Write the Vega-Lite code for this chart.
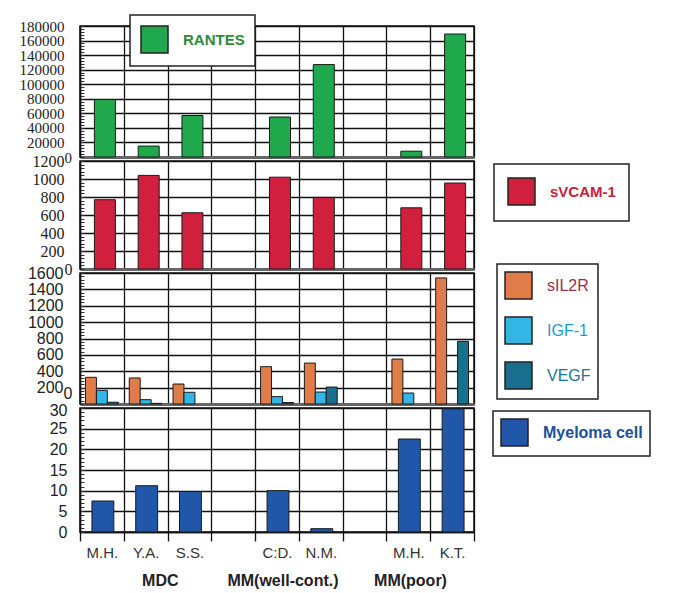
{
  "$schema": "https://vega.github.io/schema/vega-lite/v6.json",
  "background": "white",
  "padding": {"left": 18, "top": 13, "right": 0, "bottom": 0},
  "bounds": "flush",
  "spacing": 4,
  "config": {
    "view": {"stroke": "#111", "strokeWidth": 1.5},
    "legend": {"strokeWidth": 1.5}
  },
  "datasets": {
    "rantes": [
      {"slot": "M.H.|MDC", "series": "RANTES", "value": 79000},
      {"slot": "Y.A.|MDC", "series": "RANTES", "value": 15000},
      {"slot": "S.S.|MDC", "series": "RANTES", "value": 57000},
      {"slot": "C:D.|well", "series": "RANTES", "value": 55000},
      {"slot": "N.M.|well", "series": "RANTES", "value": 127000},
      {"slot": "M.H.|poor", "series": "RANTES", "value": 8000},
      {"slot": "K.T.|poor", "series": "RANTES", "value": 169000}
    ],
    "svcam": [
      {"slot": "M.H.|MDC", "series": "sVCAM-1", "value": 770},
      {"slot": "Y.A.|MDC", "series": "sVCAM-1", "value": 1040},
      {"slot": "S.S.|MDC", "series": "sVCAM-1", "value": 625},
      {"slot": "C:D.|well", "series": "sVCAM-1", "value": 1020},
      {"slot": "N.M.|well", "series": "sVCAM-1", "value": 795},
      {"slot": "M.H.|poor", "series": "sVCAM-1", "value": 680},
      {"slot": "K.T.|poor", "series": "sVCAM-1", "value": 955}
    ],
    "cyto": [
      {"slot": "M.H.|MDC", "series": "sIL2R", "value": 326},
      {"slot": "M.H.|MDC", "series": "IGF-1", "value": 167},
      {"slot": "M.H.|MDC", "series": "VEGF", "value": 22},
      {"slot": "Y.A.|MDC", "series": "sIL2R", "value": 318},
      {"slot": "Y.A.|MDC", "series": "IGF-1", "value": 53},
      {"slot": "Y.A.|MDC", "series": "VEGF", "value": 8},
      {"slot": "S.S.|MDC", "series": "sIL2R", "value": 244},
      {"slot": "S.S.|MDC", "series": "IGF-1", "value": 143},
      {"slot": "C:D.|well", "series": "sIL2R", "value": 456},
      {"slot": "C:D.|well", "series": "IGF-1", "value": 90},
      {"slot": "C:D.|well", "series": "VEGF", "value": 18},
      {"slot": "N.M.|well", "series": "sIL2R", "value": 500},
      {"slot": "N.M.|well", "series": "IGF-1", "value": 146},
      {"slot": "N.M.|well", "series": "VEGF", "value": 207},
      {"slot": "M.H.|poor", "series": "sIL2R", "value": 549},
      {"slot": "M.H.|poor", "series": "IGF-1", "value": 134},
      {"slot": "K.T.|poor", "series": "sIL2R", "value": 1540},
      {"slot": "K.T.|poor", "series": "VEGF", "value": 765}
    ],
    "myeloma": [
      {"slot": "M.H.|MDC", "series": "Myeloma cell", "value": 7.5},
      {"slot": "Y.A.|MDC", "series": "Myeloma cell", "value": 11.2},
      {"slot": "S.S.|MDC", "series": "Myeloma cell", "value": 9.8},
      {"slot": "C:D.|well", "series": "Myeloma cell", "value": 10},
      {"slot": "N.M.|well", "series": "Myeloma cell", "value": 0.8},
      {"slot": "M.H.|poor", "series": "Myeloma cell", "value": 22.5},
      {"slot": "K.T.|poor", "series": "Myeloma cell", "value": 29.8}
    ]
  },
  "resolve": {
    "scale": {"x": "independent", "y": "independent", "color": "independent", "xOffset": "independent"},
    "legend": {"color": "independent"}
  },
  "vconcat": [
    {
      "width": 394, "height": 131,
      "data": {"name": "rantes"},
      "mark": {"type": "bar", "width": {"band": 0.48}, "xOffset": 3, "stroke": "#1a1a1a", "strokeWidth": 1},
      "encoding": {
        "x": {"field": "slot", "type": "nominal", "sort": null,
          "scale": {"domain": ["M.H.|MDC","Y.A.|MDC","S.S.|MDC","|g1","C:D.|well","N.M.|well","|g2","M.H.|poor","K.T.|poor"], "paddingInner": 0, "paddingOuter": 0},
          "axis": {"title": null, "labels": false, "ticks": false, "domain": true, "domainColor": "#666", "domainWidth": 3, "grid": true, "gridColor": "#111", "gridWidth": 1.3, "tickBand": "extent"}},
        "y": {"field": "value", "type": "quantitative",
          "scale": {"domain": [0, 180000], "nice": false},
          "axis": {"title": null,
            "values": [0,4000,8000,12000,16000,20000,24000,28000,32000,36000,40000,44000,48000,52000,56000,60000,64000,68000,72000,76000,80000,84000,88000,92000,96000,100000,104000,108000,112000,116000,120000,124000,128000,132000,136000,140000,144000,148000,152000,156000,160000,164000,168000,172000,176000,180000],
            "format": "d",
            "labelExpr": "datum.value % 20000 === 0 ? datum.label : ''",
            "labelOverlap": false, "labelBound": false,
            "labelFont": "Liberation Serif", "labelFontSize": 15, "labelColor": "#222",
            "labelPadding": 20, "tickSize": -4, "tickColor": "#333", "tickWidth": 1,
            "labelAlign": {"condition": {"test": "datum.value === 0", "value": "left"}, "value": "right"},
            "domainColor": "#111", "domainWidth": 1.5,
            "grid": true, "gridColor": "#111", "gridWidth": 1.5,
            "gridOpacity": {"condition": {"test": "datum.value % 20000 === 0", "value": 1}, "value": 0}}},
        "color": {"field": "series", "type": "nominal",
          "scale": {"domain": ["RANTES"], "range": ["#1fa84c"]},
          "legend": {"orient": "none", "legendX": 50, "legendY": -11, "title": null,
            "padding": 10, "strokeColor": "#222", "fillColor": "white",
            "symbolType": "square", "symbolSize": 729, "symbolStrokeColor": "#222", "symbolStrokeWidth": 1.5, "symbolOpacity": 1,
            "labelFont": "Liberation Sans", "labelFontSize": 15, "labelFontWeight": "bold", "labelColor": "#2e8b3a",
            "labelOffset": 14, "labelLimit": 400,
            "labelExpr": "datum.label + '\u00a0\u00a0\u00a0\u00a0\u00a0\u00a0\u00a0'"}}
      }
    },
    {
      "width": 394, "height": 108,
      "data": {"name": "svcam"},
      "mark": {"type": "bar", "width": {"band": 0.48}, "xOffset": 3, "stroke": "#1a1a1a", "strokeWidth": 1},
      "encoding": {
        "x": {"field": "slot", "type": "nominal", "sort": null,
          "scale": {"domain": ["M.H.|MDC","Y.A.|MDC","S.S.|MDC","|g1","C:D.|well","N.M.|well","|g2","M.H.|poor","K.T.|poor"], "paddingInner": 0, "paddingOuter": 0},
          "axis": {"title": null, "labels": false, "ticks": false, "domain": true, "domainColor": "#666", "domainWidth": 3, "grid": true, "gridColor": "#111", "gridWidth": 1.3, "tickBand": "extent"}},
        "y": {"field": "value", "type": "quantitative",
          "scale": {"domain": [0, 1200], "nice": false},
          "axis": {"title": null,
            "values": [0,40,80,120,160,200,240,280,320,360,400,440,480,520,560,600,640,680,720,760,800,840,880,920,960,1000,1040,1080,1120,1160,1200],
            "format": "d",
            "labelExpr": "datum.value % 200 === 0 ? datum.label : ''",
            "labelOverlap": false, "labelBound": false,
            "labelFont": "Liberation Serif", "labelFontSize": 16, "labelColor": "#222",
            "labelPadding": 20, "tickSize": -4, "tickColor": "#333", "tickWidth": 1,
            "labelAlign": {"condition": {"test": "datum.value === 0", "value": "left"}, "value": "right"},
            "domainColor": "#111", "domainWidth": 1.5,
            "grid": true, "gridColor": "#111", "gridWidth": 1.5,
            "gridOpacity": {"condition": {"test": "datum.value % 200 === 0", "value": 1}, "value": 0}}},
        "color": {"field": "series", "type": "nominal",
          "scale": {"domain": ["sVCAM-1"], "range": ["#d0203e"]},
          "legend": {"orient": "none", "legendX": 414, "legendY": 3, "title": null,
            "padding": 13, "strokeColor": "#222", "fillColor": "white",
            "symbolType": "square", "symbolSize": 729, "symbolStrokeColor": "#222", "symbolStrokeWidth": 1.5, "symbolOpacity": 1,
            "labelFont": "Liberation Sans", "labelFontSize": 15, "labelFontWeight": "bold", "labelColor": "#c8203c",
            "labelOffset": 14, "labelLimit": 400,
            "labelExpr": "datum.label + '\u00a0\u00a0\u00a0\u00a0\u00a0\u00a0\u00a0\u00a0\u00a0\u00a0\u00a0'"}}
      }
    },
    {
      "width": 394, "height": 131,
      "data": {"name": "cyto"},
      "mark": {"type": "bar", "stroke": "#1a1a1a", "strokeWidth": 1},
      "encoding": {
        "x": {"field": "slot", "type": "nominal", "sort": null,
          "scale": {"domain": ["M.H.|MDC","Y.A.|MDC","S.S.|MDC","|g1","C:D.|well","N.M.|well","|g2","M.H.|poor","K.T.|poor"], "paddingInner": 0, "paddingOuter": 0},
          "axis": {"title": null, "labels": false, "ticks": false, "domain": true, "domainColor": "#666", "domainWidth": 3, "grid": true, "gridColor": "#111", "gridWidth": 1.3, "tickBand": "extent"}},
        "xOffset": {"field": "series", "type": "nominal",
          "scale": {"domain": ["sIL2R", "IGF-1", "VEGF"], "paddingInner": 0, "paddingOuter": 0.5}},
        "y": {"field": "value", "type": "quantitative",
          "scale": {"domain": [0, 1600], "nice": false},
          "axis": {"title": null,
            "values": [0,40,80,120,160,200,240,280,320,360,400,440,480,520,560,600,640,680,720,760,800,840,880,920,960,1000,1040,1080,1120,1160,1200,1240,1280,1320,1360,1400,1440,1480,1520,1560,1600],
            "format": "d",
            "labelExpr": "datum.value % 200 === 0 ? datum.label : ''",
            "labelOverlap": false, "labelBound": false,
            "labelFont": "Liberation Sans", "labelFontSize": 16, "labelColor": "#222",
            "labelPadding": 21, "tickSize": -4, "tickColor": "#333", "tickWidth": 1,
            "labelAlign": {"condition": {"test": "datum.value === 0", "value": "left"}, "value": "right"},
            "labelBaseline": {"condition": {"test": "datum.value === 0", "value": "bottom"}, "value": "middle"},
            "labelOffset": {"condition": {"test": "datum.value === 0", "value": -3}, "value": 0},
            "domainColor": "#111", "domainWidth": 1.5,
            "grid": true, "gridColor": "#111", "gridWidth": 1.5,
            "gridOpacity": {"condition": {"test": "datum.value % 200 === 0", "value": 1}, "value": 0}}},
        "color": {"field": "series", "type": "nominal",
          "scale": {"domain": ["sIL2R", "IGF-1", "VEGF"], "range": ["#e07c48", "#33b5e5", "#17708f"]},
          "legend": {"orient": "none", "legendX": 417, "legendY": -9, "title": null,
            "padding": 7, "rowPadding": 12, "strokeColor": "#222", "fillColor": "white",
            "symbolType": "square", "symbolSize": 729, "symbolStrokeColor": "#222", "symbolStrokeWidth": 1.5, "symbolOpacity": 1,
            "labelFont": "Liberation Sans", "labelFontSize": 16, "labelFontWeight": "normal",
            "labelOffset": 14, "labelLimit": 400,
            "labelExpr": "datum.label + '\u00a0\u00a0\u00a0\u00a0'",
            "encode": {"labels": {"update": {"fill": {"signal": "datum.label === 'sIL2R' ? '#9b2d4c' : datum.label === 'IGF-1' ? '#1f9bd0' : '#1d7494'"}}}}}}
      }
    },
    {
      "width": 394, "height": 124,
      "data": {"name": "myeloma"},
      "mark": {"type": "bar", "width": {"band": 0.5}, "xOffset": 1, "stroke": "#1a1a1a", "strokeWidth": 1},
      "encoding": {
        "x": {"field": "slot", "type": "nominal", "sort": null,
          "scale": {"domain": ["M.H.|MDC","Y.A.|MDC","S.S.|MDC","|g1","C:D.|well","N.M.|well","|g2","M.H.|poor","K.T.|poor"], "paddingInner": 0, "paddingOuter": 0},
          "axis": {"title": "MDC\u00a0\u00a0\u00a0\u00a0\u00a0\u00a0\u00a0\u00a0\u00a0\u00a0\u00a0MM(well-cont.)\u00a0\u00a0\u00a0\u00a0\u00a0\u00a0\u00a0\u00a0MM(poor)",
            "titleFont": "Liberation Sans", "titleFontSize": 16, "titleFontWeight": "bold", "titleColor": "#222",
            "titlePadding": 12, "titleX": 214, "titleAlign": "center",
            "labels": true, "labelExpr": "split(datum.label, '|')[0]", "labelOverlap": false,
            "labelFont": "Liberation Sans", "labelFontSize": 15, "labelColor": "#333", "labelPadding": 4, "labelAngle": 0,
            "ticks": true, "tickSize": 9, "tickColor": "#111", "tickWidth": 1.3,
            "domain": true, "domainColor": "#111", "domainWidth": 1.5,
            "grid": true, "gridColor": "#111", "gridWidth": 1.3, "tickBand": "extent"}},
        "y": {"field": "value", "type": "quantitative",
          "scale": {"domain": [0, 30], "nice": false},
          "axis": {"title": null,
            "values": [0,1,2,3,4,5,6,7,8,9,10,11,12,13,14,15,16,17,18,19,20,21,22,23,24,25,26,27,28,29,30],
            "format": "d",
            "labelExpr": "datum.value % 5 === 0 ? datum.label : ''",
            "labelOverlap": false, "labelBound": false,
            "labelFont": "Liberation Sans", "labelFontSize": 16, "labelColor": "#222",
            "labelPadding": 17, "tickSize": -4, "tickColor": "#333", "tickWidth": 1,
            "labelOffset": {"condition": {"test": "datum.value === 30", "value": 2}, "value": 0},
            "domainColor": "#111", "domainWidth": 1.5,
            "grid": true, "gridColor": "#111", "gridWidth": 1.5,
            "gridOpacity": {"condition": {"test": "datum.value % 5 === 0", "value": 1}, "value": 0}}},
        "color": {"field": "series", "type": "nominal",
          "scale": {"domain": ["Myeloma cell"], "range": ["#2057a8"]},
          "legend": {"orient": "none", "legendX": 413, "legendY": 3, "title": null,
            "padding": 7, "strokeColor": "#222", "fillColor": "white",
            "symbolType": "square", "symbolSize": 729, "symbolStrokeColor": "#222", "symbolStrokeWidth": 1.5, "symbolOpacity": 1,
            "labelFont": "Liberation Sans", "labelFontSize": 16, "labelFontWeight": "bold", "labelColor": "#1b4f9c",
            "labelOffset": 14, "labelLimit": 400,
            "labelExpr": "datum.label + '\u00a0\u00a0\u00a0\u00a0\u00a0\u00a0\u00a0\u00a0'"}}
      }
    }
  ]
}
